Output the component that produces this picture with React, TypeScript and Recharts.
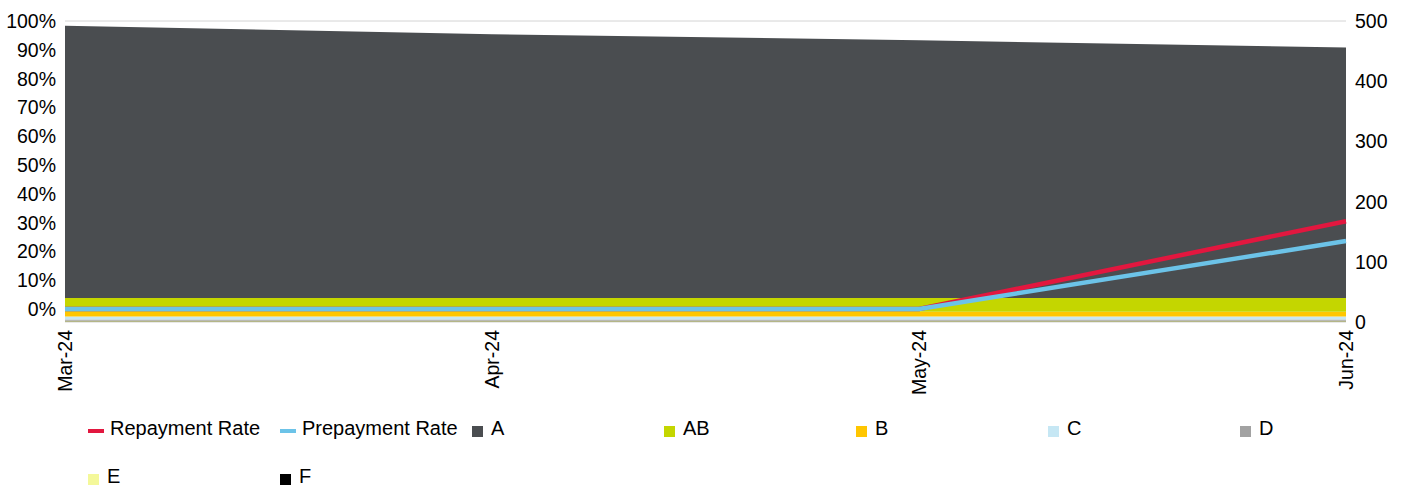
import React from 'react';
import { ComposedChart, Area, Line, XAxis, YAxis, CartesianGrid } from 'recharts';

const months = ['Mar-24', 'Apr-24', 'May-24', 'Jun-24'];
const repaymentRate = [0, 0, 0, 0.305];
const prepaymentRate = [0, 0, 0, 0.236];
const gradeA = [452, 438, 428, 416];
const gradeAB = [23, 23, 23, 23];
const gradeB = [8, 8, 8, 8];
const gradeC = [5, 5, 5, 5];
const gradeD = [2, 2, 2, 2];
const gradeE = [1, 1, 1, 1];
const gradeF = [1, 1, 1, 1];
const leftTicks = [0, 0.1, 0.2, 0.3, 0.4, 0.5, 0.6, 0.7, 0.8, 0.9, 1];
const rightTicks = [0, 100, 200, 300, 400, 500];

// stacked bottom to top
const grades = [
  { key: 'F', values: gradeF, color: '#000000' },
  { key: 'E', values: gradeE, color: '#f4f89a' },
  { key: 'D', values: gradeD, color: '#a2a2a2' },
  { key: 'C', values: gradeC, color: '#c6e7f4' },
  { key: 'B', values: gradeB, color: '#ffc600' },
  { key: 'AB', values: gradeAB, color: '#c4d600' },
  { key: 'A', values: gradeA, color: '#4a4d50' },
];

const RED = '#e2173f';
const BLUE = '#6cc3e8';

const data = months.map((m, i) => {
  const row: Record<string, string | number> = {
    month: m,
    repayment: repaymentRate[i],
    prepayment: prepaymentRate[i],
  };
  grades.forEach(g => { row[g.key] = g.values[i]; });
  return row;
});

const legendItems = [
  { name: 'Repayment Rate', color: RED, kind: 'line' },
  { name: 'Prepayment Rate', color: BLUE, kind: 'line' },
  ...['A', 'AB', 'B', 'C', 'D', 'E', 'F'].map(k => ({
    name: k,
    color: grades.find(g => g.key === k)!.color,
    kind: 'square',
  })),
];

const FONT = '"Liberation Sans", Arial, sans-serif';

const MonthTick = (props: any) => {
  const { x, y, payload } = props;
  return (
    <text
      x={x}
      y={y}
      transform={`rotate(-90, ${x}, ${y})`}
      textAnchor="end"
      dy="0.35em"
      fontSize={19.5}
      fontFamily={FONT}
      fill="#000"
    >
      {payload.value}
    </text>
  );
};

const App: React.FC = () => {
  return (
    <div style={{ position: 'relative', width: 1403, height: 488, background: '#fff', fontFamily: FONT }}>
      <style>{`body{margin:0}`}</style>
      <ComposedChart width={1403} height={410} data={data} margin={{ top: 21, right: 0, bottom: 0, left: 0 }}>
        <CartesianGrid yAxisId="left" vertical={false} stroke="#d4d4d4" />
        <XAxis
          dataKey="month"
          axisLine={false}
          tickLine={false}
          height={88}
          interval={0}
          tick={<MonthTick />}
        />
        <YAxis
          yAxisId="left"
          domain={[-0.045, 1]}
          ticks={leftTicks}
          tickFormatter={v => `${Math.round(v * 100)}%`}
          axisLine={false}
          tickLine={false}
          width={65}
          tickMargin={3}
          tick={{ fontSize: 19.5, fill: '#000', fontFamily: FONT }}
        />
        <YAxis
          yAxisId="right"
          orientation="right"
          domain={[0, 500]}
          ticks={rightTicks}
          axisLine={false}
          tickLine={false}
          width={57}
          tickMargin={3}
          tick={{ fontSize: 19.5, fill: '#000', fontFamily: FONT }}
        />
        {grades.map(g => (
          <Area
            key={g.key}
            yAxisId="right"
            type="linear"
            dataKey={g.key}
            stackId="grades"
            stroke="none"
            fill={g.color}
            fillOpacity={1}
            isAnimationActive={false}
          />
        ))}
        <Line
          yAxisId="left"
          type="linear"
          dataKey="repayment"
          stroke={RED}
          strokeWidth={4.5}
          dot={false}
          isAnimationActive={false}
        />
        <Line
          yAxisId="left"
          type="linear"
          dataKey="prepayment"
          stroke={BLUE}
          strokeWidth={4.5}
          dot={false}
          isAnimationActive={false}
        />
      </ComposedChart>
      <div
        style={{
          position: 'absolute',
          left: 88,
          top: 404,
          width: 192 * 7,
          display: 'flex',
          flexWrap: 'wrap',
          fontSize: 20,
          color: '#000',
        }}
      >
        {legendItems.map(item => (
          <div key={item.name} style={{ width: 192, height: 48, display: 'flex', alignItems: 'center', position: 'relative' }}>
            {item.kind === 'line' ? (
              <span style={{ display: 'inline-block', width: 16, height: 4, background: item.color, marginTop: 6, marginRight: 6 }} />
            ) : (
              <span style={{ display: 'inline-block', width: 11, height: 11, background: item.color, marginTop: 6, marginRight: 8 }} />
            )}
            <span style={{ whiteSpace: 'nowrap' }}>{item.name}</span>
          </div>
        ))}
      </div>
    </div>
  );
};

export default App;
